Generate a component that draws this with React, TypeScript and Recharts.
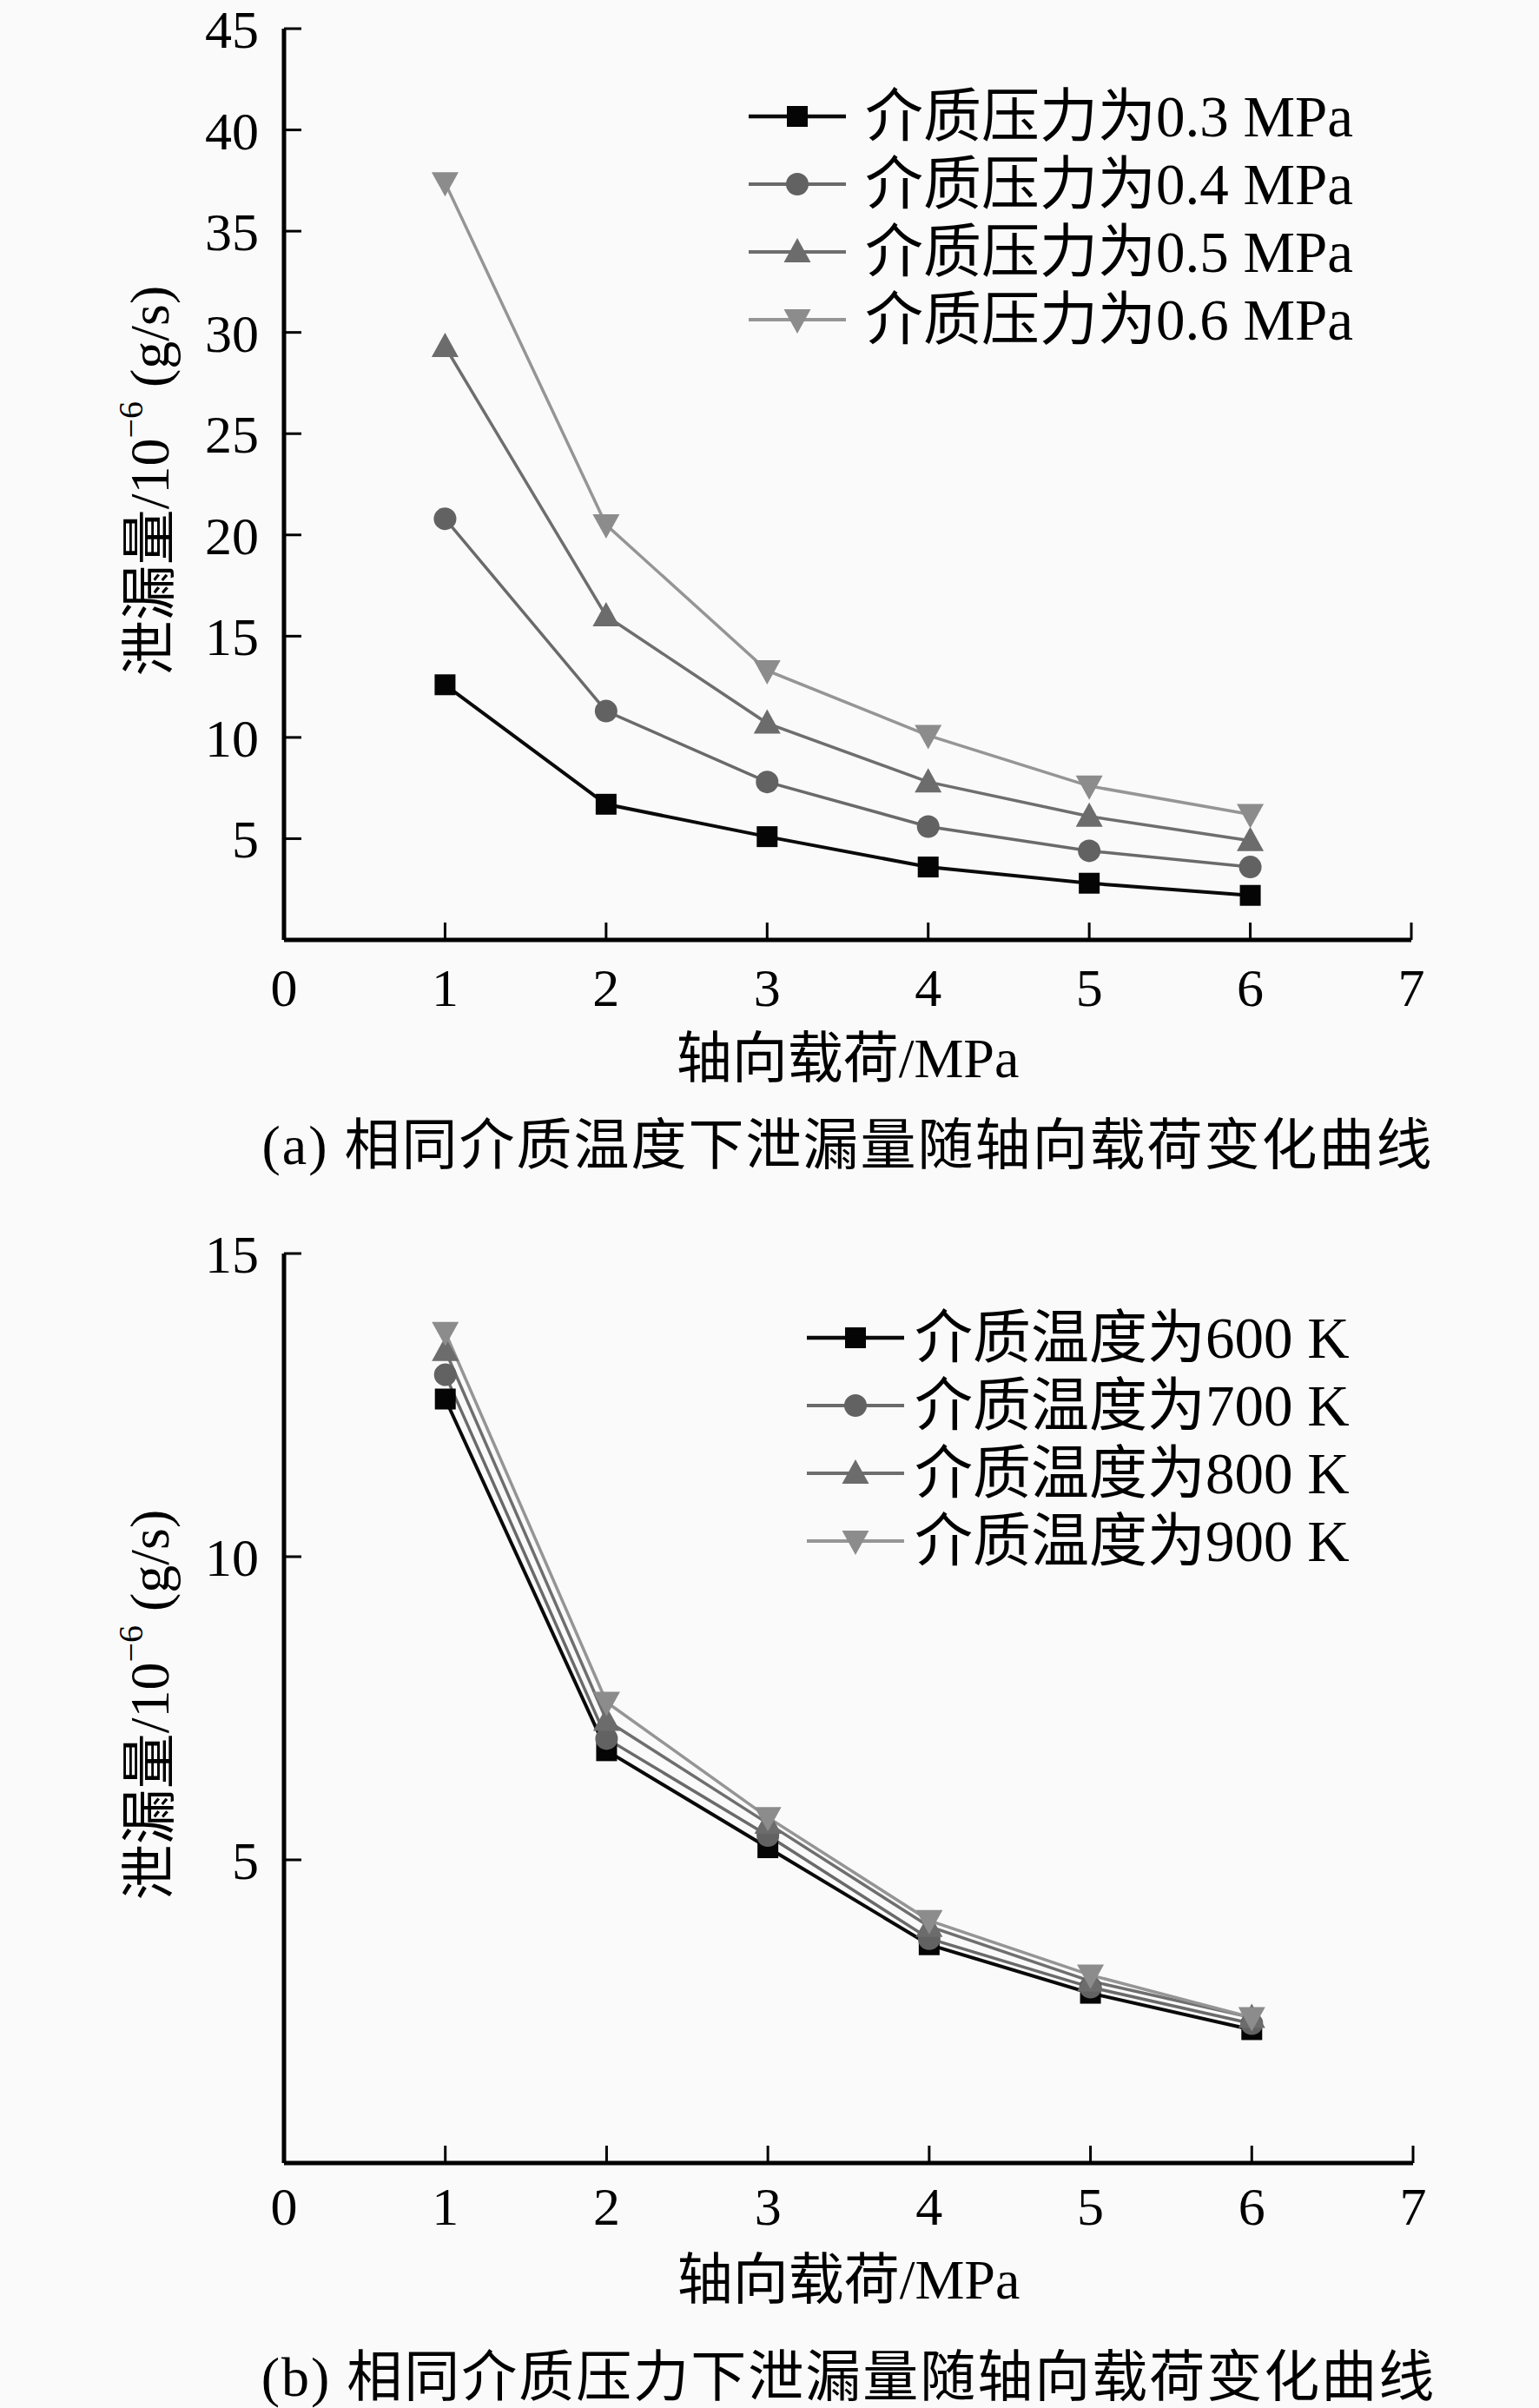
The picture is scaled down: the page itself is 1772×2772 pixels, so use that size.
import React from 'react';
import { LineChart, Line, XAxis, YAxis, Legend } from 'recharts';

// axial load (MPa)
const loads = [1, 2, 3, 4, 5, 6];
const xTicks = [0, 1, 2, 3, 4, 5, 6, 7];

// (a) leakage at equal medium temperature, by medium pressure
const leakP03 = [12.6, 6.7, 5.1, 3.6, 2.8, 2.2];
const leakP04 = [20.8, 11.3, 7.8, 5.6, 4.4, 3.6];
const leakP05 = [29.3, 16.0, 10.7, 7.8, 6.1, 4.9];
const leakP06 = [37.4, 20.5, 13.3, 10.1, 7.6, 6.2];
const yTicksA = [5, 10, 15, 20, 25, 30, 35, 40, 45];
const namesA = ['介质压力为0.3 MPa', '介质压力为0.4 MPa', '介质压力为0.5 MPa', '介质压力为0.6 MPa'];

// (b) leakage at equal medium pressure, by medium temperature
const leakT600 = [12.6, 6.8, 5.2, 3.6, 2.8, 2.2];
const leakT700 = [13.0, 7.0, 5.4, 3.7, 2.9, 2.3];
const leakT800 = [13.4, 7.3, 5.6, 3.9, 3.0, 2.4];
const leakT900 = [13.7, 7.6, 5.7, 4.0, 3.1, 2.4];
const yTicksB = [5, 10, 15];
const namesB = ['介质温度为600 K', '介质温度为700 K', '介质温度为800 K', '介质温度为900 K'];

const FONT = '"Liberation Serif", "Times New Roman", "Noto Sans CJK SC", serif';
const BG = '#fafafa';

type Shape = 'square' | 'circle' | 'triangle' | 'down';

interface SeriesStyle {
  shape: Shape;
  fill: string;
  stroke: string;
  width: number;
}

const styles: SeriesStyle[] = [
  { shape: 'square', fill: '#050505', stroke: '#0a0a0a', width: 4 },
  { shape: 'circle', fill: '#626262', stroke: '#6a6a6a', width: 3.5 },
  { shape: 'triangle', fill: '#6c6c6c', stroke: '#6e6e6e', width: 3.5 },
  { shape: 'down', fill: '#8c8c8c', stroke: '#959595', width: 3.5 },
];

const Marker = ({ cx, cy, shape, fill }: { cx?: number; cy?: number; shape: Shape; fill: string }) => {
  if (cx == null || cy == null) return null;
  switch (shape) {
    case 'square':
      return <rect x={cx - 12} y={cy - 12} width={24} height={24} fill={fill} />;
    case 'circle':
      return <circle cx={cx} cy={cy} r={13} fill={fill} />;
    case 'triangle':
      return <polygon points={`${cx},${cy - 16} ${cx + 15.5},${cy + 12} ${cx - 15.5},${cy + 12}`} fill={fill} />;
    default:
      return <polygon points={`${cx},${cy + 16} ${cx + 15.5},${cy - 12} ${cx - 15.5},${cy - 12}`} fill={fill} />;
  }
};

interface LegendBoxProps {
  names: string[];
  rowHeight: number;
  lineWidth: number;
  gap: number;
}

const LegendBox: React.FC<LegendBoxProps> = ({ names, rowHeight, lineWidth, gap }) => (
  <div style={{ fontFamily: FONT, fontSize: 67, color: '#000' }}>
    {names.map((name, i) => (
      <div key={name} style={{ display: 'flex', alignItems: 'center', height: rowHeight, whiteSpace: 'nowrap' }}>
        <svg width={lineWidth} height={rowHeight} style={{ flex: 'none' }}>
          <line x1={0} x2={lineWidth} y1={rowHeight / 2} y2={rowHeight / 2} stroke={styles[i].stroke} strokeWidth={styles[i].width + 0.5} />
          <Marker cx={lineWidth / 2} cy={rowHeight / 2} shape={styles[i].shape} fill={styles[i].fill} />
        </svg>
        <span style={{ marginLeft: gap, lineHeight: `${rowHeight}px` }}>{name}</span>
      </div>
    ))}
  </div>
);

interface LeakChartProps {
  series: number[][];
  names: string[];
  yMax: number;
  yTicks: number[];
  height: number;
  margin: { top: number; right: number; left: number; bottom: number };
  xTickMargin: number;
  xLabelOffset: number;
  captionOffset: number;
  caption: string;
  legendPos: { left: number; top: number };
  legendGap: number;
}

const LeakChart: React.FC<LeakChartProps> = ({
  series, names, yMax, yTicks, height, margin, xTickMargin, xLabelOffset, captionOffset, caption, legendPos, legendGap,
}) => {
  const data = loads.map((load, i) => {
    const row: Record<string, number> = { load };
    series.forEach((s, k) => { row[`s${k}`] = s[i]; });
    return row;
  });

  const tick = { fontSize: 62, fill: '#000', fontFamily: FONT };

  const yLabel = (props: any) => {
    const vb = props.viewBox || {};
    const cx = 172;
    const cy = vb.y + vb.height / 2 - 4;
    return (
      <text
        x={cx}
        y={cy}
        transform={`rotate(-90, ${cx}, ${cy})`}
        textAnchor="middle"
        dominantBaseline="central"
        fontSize={64}
        fontFamily={FONT}
        fill="#000"
      >
        泄漏量/10<tspan dy={-22} fontSize={40}>−6</tspan><tspan dy={22}> (g/s)</tspan>
      </text>
    );
  };

  const xLabel = (props: any) => {
    const vb = props.viewBox || {};
    const cx = vb.x + vb.width / 2;
    return (
      <g fontFamily={FONT} fill="#000">
        <text x={cx} y={vb.y + xLabelOffset} textAnchor="middle" dominantBaseline="central" fontSize={64}>
          轴向载荷/MPa
        </text>
        <text x={cx} y={vb.y + captionOffset} textAnchor="middle" dominantBaseline="central" fontSize={64} letterSpacing={2}>
          {caption}
        </text>
      </g>
    );
  };

  return (
    <LineChart width={1772} height={height} data={data} margin={margin}>
      <XAxis
        dataKey="load"
        type="number"
        domain={[0, 7]}
        ticks={xTicks}
        interval={0}
        tickSize={-20}
        tickMargin={xTickMargin}
        tick={tick}
        tickLine={{ stroke: '#000', strokeWidth: 3 }}
        axisLine={{ stroke: '#000', strokeWidth: 5 }}
        height={100}
        label={{ content: xLabel }}
      />
      <XAxis xAxisId="top" orientation="top" type="number" domain={[0, 7]} tick={false} tickLine={false} height={0}
        axisLine={{ stroke: '#000', strokeWidth: 4 }} />
      <YAxis
        type="number"
        domain={[0, yMax]}
        ticks={yTicks}
        interval={0}
        tickSize={-20}
        tickMargin={49}
        tick={tick}
        tickLine={{ stroke: '#000', strokeWidth: 3 }}
        axisLine={{ stroke: '#000', strokeWidth: 5 }}
        width={120}
        label={{ content: yLabel }}
      />
      <YAxis yAxisId="right" orientation="right" type="number" domain={[0, yMax]} tick={false} tickLine={false} width={0}
        axisLine={{ stroke: '#000', strokeWidth: 4 }} />
      <Legend
        layout="vertical"
        align="center"
        verticalAlign="middle"
        wrapperStyle={{ position: 'absolute', left: legendPos.left, top: legendPos.top, width: 'auto' }}
        content={() => <LegendBox names={names} rowHeight={78} lineWidth={112} gap={legendGap} />}
      />
      {series.map((_, k) => (
        <Line
          key={k}
          type="linear"
          dataKey={`s${k}`}
          name={names[k]}
          stroke={styles[k].stroke}
          strokeWidth={styles[k].width}
          dot={(p: any) => (
            <Marker key={`m${k}-${p.index}`} cx={p.cx} cy={p.cy} shape={styles[k].shape} fill={styles[k].fill} />
          )}
          activeDot={false}
          isAnimationActive={false}
        />
      ))}
    </LineChart>
  );
};

export default function App() {
  return (
    <div style={{ position: 'absolute', left: 0, top: 0, width: 1772, height: 2772, background: BG, overflow: 'hidden' }}>
      <div style={{ position: 'absolute', left: 0, top: 0 }}>
        <LeakChart
          series={[leakP03, leakP04, leakP05, leakP06]}
          names={namesA}
          yMax={45}
          yTicks={yTicksA}
          height={1386}
          margin={{ top: 33, right: 147, left: 207, bottom: 204 }}
          xTickMargin={52}
          xLabelOffset={136}
          captionOffset={236}
          caption="(a) 相同介质温度下泄漏量随轴向载荷变化曲线"
          legendPos={{ left: 862, top: 95 }}
          legendGap={22}
        />
      </div>
      <div style={{ position: 'absolute', left: 0, top: 1386 }}>
        <LeakChart
          series={[leakT600, leakT700, leakT800, leakT900]}
          names={namesB}
          yMax={15}
          yTicks={yTicksB}
          height={1386}
          margin={{ top: 57, right: 145, left: 207, bottom: 182 }}
          xTickMargin={47}
          xLabelOffset={134}
          captionOffset={246}
          caption="(b) 相同介质压力下泄漏量随轴向载荷变化曲线"
          legendPos={{ left: 929, top: 115 }}
          legendGap={12}
        />
      </div>
    </div>
  );
}
